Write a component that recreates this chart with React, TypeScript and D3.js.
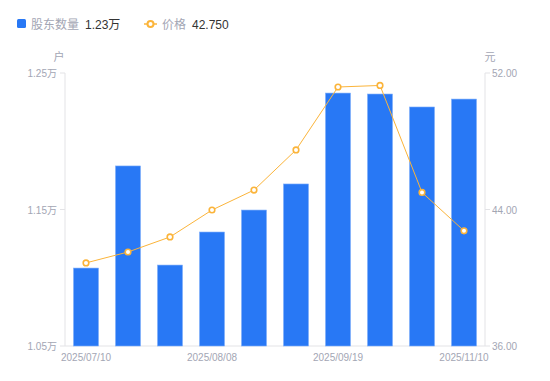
import React from "react";
import * as d3 from "d3";

const categories = ["2025/07/10","2025/07/18","2025/07/31","2025/08/08","2025/08/20","2025/08/29","2025/09/19","2025/09/30","2025/10/20","2025/11/10"];
const holders = [1.1071, 1.1819, 1.1093, 1.1335, 1.1496, 1.1687, 1.2353, 1.2346, 1.2251, 1.2309];
const prices = [40.87, 41.51, 42.39, 43.97, 45.14, 47.49, 51.18, 51.27, 45.0, 42.75];
const leftTicks = [1.05, 1.15, 1.25];
const rightTicks = [36, 44, 52];
const xLabelIdx = [0, 3, 6, 9];

const W = 550, H = 381;
const L = 65, R = 485, T = 73, B = 346;
const BLUE = "#2878f5";
const ORANGE = "#fbb43a";
const GRAY = "#a3a6b4";
const AXIS = "#e3e3e6";
const FONT = "'Liberation Sans', Arial, 'Noto Sans CJK SC', sans-serif";

export default function App() {
  const xc = d3.scaleBand<string>().domain(categories).range([L, R]);
  const yL = d3.scaleLinear().domain([1.05, 1.25]).range([B, T]);
  const yR = d3.scaleLinear().domain([36, 52]).range([B, T]);
  const cxOf = (i: number) => xc(categories[i])! + xc.bandwidth() / 2;
  const line = d3.line<number>().x((_, i) => cxOf(i)).y((d) => yR(d));
  const bw = 25;
  return (
    <svg width={W} height={H} style={{ position: "absolute", left: 0, top: 0, fontFamily: FONT }}>
      {/* legend */}
      <rect x={17} y={19} width={9} height={9} rx={1.5} fill={BLUE} />
      <text x={31} y={28.5} fontSize={12} fill={GRAY}>股东数量</text>
      <text x={85} y={28.5} fontSize={12} fill="#333">1.23万</text>
      <line x1={144} x2={157} y1={24} y2={24} stroke={ORANGE} strokeWidth={1.5} />
      <circle cx={150.5} cy={24} r={3} fill="#fff" stroke={ORANGE} strokeWidth={2} />
      <text x={162} y={28.5} fontSize={12} fill={GRAY}>价格</text>
      <text x={192} y={28.5} fontSize={12} fill="#333">42.750</text>

      {/* axis names */}
      <text x={59} y={61} fontSize={11} fill={GRAY} textAnchor="middle">户</text>
      <text x={490} y={61} fontSize={11} fill={GRAY} textAnchor="middle">元</text>

      {/* axes */}
      <line x1={L} x2={L} y1={T} y2={B} stroke={AXIS} />
      <line x1={R} x2={R} y1={T} y2={B} stroke={AXIS} />
      <line x1={L} x2={R} y1={B} y2={B} stroke={AXIS} />
      {leftTicks.map((t) => (
        <g key={"l" + t}>
          <line x1={L - 5} x2={L} y1={yL(t)} y2={yL(t)} stroke={AXIS} />
          <text x={L - 8} y={yL(t) + 4} fontSize={10} fill={GRAY} textAnchor="end">{t.toFixed(2)}万</text>
        </g>
      ))}
      {rightTicks.map((t) => (
        <g key={"r" + t}>
          <line x1={R} x2={R + 5} y1={yR(t)} y2={yR(t)} stroke={AXIS} />
          <text x={R + 7} y={yR(t) + 4} fontSize={10} fill={GRAY}>{t.toFixed(2)}</text>
        </g>
      ))}
      {xLabelIdx.map((i) => (
        <text key={"x" + i} x={cxOf(i)} y={361} fontSize={10} fill={GRAY} textAnchor="middle">{categories[i]}</text>
      ))}

      {/* bars */}
      {holders.map((v, i) => (
        <rect key={"b" + i} x={cxOf(i) - bw / 2} y={yL(v)} width={bw} height={B - yL(v)} fill={BLUE} stroke="#7eaefa" strokeWidth={0.6} />
      ))}

      {/* line */}
      <path d={line(prices)!} fill="none" stroke={ORANGE} strokeWidth={1} />
      {prices.map((v, i) => (
        <circle key={"p" + i} cx={cxOf(i)} cy={yR(v)} r={2.8} fill="#fff" stroke={ORANGE} strokeWidth={1.6} />
      ))}
    </svg>
  );
}
